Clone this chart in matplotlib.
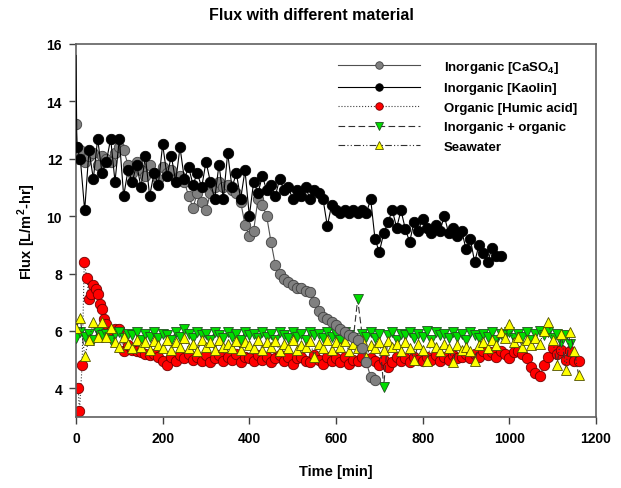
import matplotlib
matplotlib.use("Agg")
import matplotlib.pyplot as plt

plt.rcParams['font.family'] = ['Liberation Sans', 'DejaVu Sans']
plt.rcParams['mathtext.fontset'] = 'custom'
plt.rcParams['mathtext.rm'] = 'Liberation Sans:bold'
plt.rcParams['mathtext.bf'] = 'Liberation Sans:bold'

# ---------------- data ----------------
t_caso4 = [0, 3, 6] + list(range(10, 700, 10))
flux_caso4 = [13.2, 12.4, 12.0,
              12.3, 11.9, 12.1, 12.2, 11.8, 12.1, 12.0, 11.9, 12.2, 12.4,
              12.3, 11.8, 11.5, 11.9, 11.6, 11.4, 11.8, 11.5, 11.3, 11.7,
              11.5, 11.6, 11.3, 11.4, 11.2, 10.7, 10.3, 10.8, 10.5, 10.2,
              10.8, 11.0, 11.2, 11.0, 11.1, 10.9, 10.8, 10.5, 9.7, 9.3,
              9.5, 10.6, 10.4, 10.0, 9.1, 8.3, 8.0, 7.8, 7.7, 7.6,
              7.5, 7.5, 7.4, 7.35, 7.0, 6.7, 6.5, 6.4, 6.3, 6.2,
              6.05, 5.95, 5.85, 5.8, 5.7, 5.4, 4.9, 4.4, 4.3]

t_kaolin = [0, 2] + list(range(10, 990, 10))
flux_kaolin = [15.6, 12.4,
               12.0, 10.2, 12.3, 11.3, 12.7, 11.5, 11.9, 12.7, 11.2, 12.7,
               10.7, 11.6, 11.2, 11.8, 11.0, 12.1, 10.7, 11.5, 11.1, 12.5,
               11.4, 12.1, 11.2, 12.4, 11.3, 11.7, 11.1, 11.5, 11.0, 11.9,
               11.2, 10.6, 11.8, 10.6, 12.2, 11.0, 11.5, 10.6, 11.6, 10.0,
               11.2, 10.8, 11.4, 10.9, 11.1, 10.7, 11.3, 10.9, 11.0, 10.6,
               10.9, 10.7, 11.0, 10.6, 10.9, 10.8, 10.6, 9.65, 10.4, 10.2,
               10.1, 10.2, 10.1, 10.2, 10.1, 10.2, 10.1, 10.6, 9.2, 8.75,
               9.4, 9.8, 10.2, 9.6, 10.2, 9.55, 9.1, 9.8, 9.5, 9.9,
               9.6, 9.4, 9.7, 9.5, 10.0, 9.4, 9.6, 9.3, 9.5, 8.85,
               9.2, 8.4, 9.0, 8.7, 8.4, 8.9, 8.6, 8.6]

t_humic = [5, 8, 14, 19, 25, 30, 35, 40, 45, 50, 55, 60, 65, 70, 80, 90, 100, 110] + list(range(120, 1170, 10))
flux_humic = [4.0, 3.2, 4.8, 8.4, 7.85, 7.1, 7.3, 7.6, 7.45, 7.3, 6.95, 6.75, 6.4, 6.25, 6.0, 6.05, 6.05, 5.3,
              5.5, 5.35, 5.3, 5.25, 5.2, 5.15, 5.2, 5.1, 4.95, 4.8,
              5.1, 4.95, 5.15, 5.05, 5.2, 5.0, 5.1, 4.95, 5.15, 4.9,
              5.05, 5.15, 4.95, 5.1, 5.0, 5.2, 4.9, 5.1, 5.05, 4.95,
              5.15, 5.0, 5.1, 4.9, 5.05, 5.15, 4.95, 5.1, 4.85, 5.05,
              5.1, 4.95, 4.9, 5.15, 5.0, 4.85, 5.1, 4.95, 5.05, 4.9,
              5.1, 4.85, 5.0, 4.95, 5.1, 4.9, 5.05, 4.95, 4.8, 5.0,
              4.75, 4.9, 5.1, 4.95, 5.05, 4.9, 5.1, 5.0, 4.95, 5.1,
              5.0, 5.15, 4.95, 5.1, 5.0, 5.15, 5.05, 5.1, 5.2, 5.05,
              5.2, 5.1, 5.3, 5.15, 5.25, 5.1, 5.3, 5.2, 5.05, 5.25,
              5.3, 5.2, 5.05, 4.75, 4.55, 4.42, 4.8, 5.1, 5.4, 5.2,
              5.35, 5.0, 5.3, 4.95, 4.95]

t_mixed = list(range(0, 1150, 10))
flux_mixed = [5.75, 5.95, 5.8, 5.9, 5.7, 5.95, 5.85, 5.9, 5.7, 5.9,
              5.95, 5.75, 5.9, 5.85, 5.95, 5.7, 5.9, 5.8, 5.95, 5.75,
              5.9, 5.85, 5.7, 5.95, 5.8, 6.05, 5.9, 5.75, 5.95, 5.85,
              5.9, 5.7, 5.95, 5.85, 5.75, 5.95, 5.8, 5.9, 5.7, 5.95,
              5.85, 5.9, 5.75, 5.95, 5.8, 5.9, 5.7, 5.95, 5.85, 5.75,
              5.95, 5.8, 5.9, 5.7, 5.95, 5.85, 5.9, 5.75, 5.95, 5.8,
              5.9, 5.7, 5.95, 5.85, 5.75, 7.1, 5.9, 5.8, 5.95, 5.75,
              5.9, 4.05, 5.85, 5.95, 5.7, 5.9, 5.85, 5.95, 5.75, 5.9,
              5.8, 6.0, 5.7, 5.95, 5.85, 5.9, 5.75, 5.95, 5.8, 5.9,
              5.7, 5.95, 5.85, 5.75, 5.9, 5.8, 5.95, 5.7, 5.9, 5.85,
              5.95, 5.75, 5.9, 5.8, 5.95, 5.7, 5.9, 6.0, 5.85, 5.95,
              5.75, 5.9, 5.6, 5.85, 5.55]

t_sea = list(range(0, 1170, 10))
flux_sea = [6.1, 6.45, 5.12, 5.7, 6.3, 5.8, 6.3, 5.8, 6.1, 5.6,
            5.45, 5.8, 5.55, 5.4, 5.7, 5.45, 5.6, 5.35, 5.65, 5.5,
            5.4, 5.7, 5.35, 5.6, 5.45, 5.75, 5.4, 5.55, 5.3, 5.7,
            5.45, 5.6, 5.35, 5.7, 5.45, 5.55, 5.4, 5.65, 5.35, 5.6,
            5.5, 5.4, 5.7, 5.35, 5.6, 5.45, 5.65, 5.3, 5.55, 5.4,
            5.7, 5.35, 5.5, 5.45, 5.65, 5.1, 5.55, 5.4, 5.7, 5.35,
            5.6, 5.45, 5.65, 5.3, 5.55, 5.4, 5.7, 5.1, 5.5, 5.4,
            5.6, 5.35, 5.65, 5.45, 5.55, 5.3, 5.6, 5.4, 5.0, 5.55,
            5.35, 4.95, 5.6, 5.45, 5.3, 5.55, 5.4, 4.9, 5.5, 5.35,
            5.45, 5.3, 4.95, 5.5, 5.6, 5.4, 5.7, 5.5, 5.95, 5.75,
            6.25, 5.6, 5.8, 5.45, 5.7, 5.5, 5.75, 5.55, 6.0, 6.3,
            5.7, 4.8, 5.9, 4.65, 5.95, 5.3, 4.45]

labels = [r'Inorganic [CaSO$_\mathbf{4}$]', 'Inorganic [Kaolin]',
          'Organic [Humic acid]', 'Inorganic + organic', 'Seawater']
x_ticks = [0, 200, 400, 600, 800, 1000, 1200]
y_ticks = [4, 6, 8, 10, 12, 14, 16]

# ---------------- figure ----------------
fig = plt.figure(figsize=(6.21, 4.89), dpi=100)
ax = fig.add_axes([76 / 621, 1 - 418 / 489, 520 / 621, 373 / 489])

ms = 7.5
l1, = ax.plot(t_caso4, flux_caso4, '-', color='#505050', lw=0.8, marker='o', ms=ms,
              mfc='#808080', mec='#404040', mew=0.6, zorder=5, label=labels[0])
l2, = ax.plot(t_kaolin, flux_kaolin, '-', color='black', lw=0.8, marker='o', ms=ms,
              mfc='black', mec='black', mew=0.6, markevery=list(range(1, len(t_kaolin))),
              zorder=6, label=labels[1])
l3, = ax.plot(t_humic, flux_humic, ':', color='#404040', lw=0.8, marker='o', ms=ms,
              mfc='#ff0000', mec='#700000', mew=0.6, zorder=2, label=labels[2])
l4, = ax.plot(t_mixed, flux_mixed, '--', color='#303030', lw=0.8, marker='v', ms=ms,
              mfc='#00dd00', mec='#205020', mew=0.6, dashes=(6, 3), zorder=3, label=labels[3])
l5, = ax.plot(t_sea, flux_sea, color='#303030', lw=0.8, marker='^', ms=ms,
              mfc='#ffff00', mec='#505000', mew=0.6, dashes=(6, 2, 1, 2, 1, 2), zorder=4,
              label=labels[4])

ax.set_xlim(0, 1200)
ax.set_ylim(3, 16)
ax.set_xticks(x_ticks)
ax.set_yticks(y_ticks)
ax.tick_params(direction='out', length=5, width=1, colors='#404040', labelsize=10, pad=5)
for lab in ax.get_xticklabels() + ax.get_yticklabels():
    lab.set_fontweight('bold')
    lab.set_color('black')
for sp in ax.spines.values():
    sp.set_color('#606060')
    sp.set_linewidth(1.2)

ax.set_xlabel('Time [min]', fontsize=10.5, fontweight='bold', labelpad=14)
ax.set_ylabel(r'Flux [L/m$^\mathbf{2}$-hr]', fontsize=10.5, fontweight='bold', labelpad=6)
fig.text(311 / 621, 1 - 16 / 489, 'Flux with different material', ha='center', va='center',
         fontsize=11.5, fontweight='bold')

leg = ax.legend(handles=[l1, l2, l3, l4, l5], loc='upper left',
                bbox_to_anchor=((338 - 76) / 520, (418 - 60) / 373),
                frameon=False, borderpad=0, borderaxespad=0, handlelength=6.2,
                handletextpad=1.8, labelspacing=0.55, markerscale=0.72,
                prop={'weight': 'bold', 'size': 9.5})

fig.savefig('out.png', dpi=100)
